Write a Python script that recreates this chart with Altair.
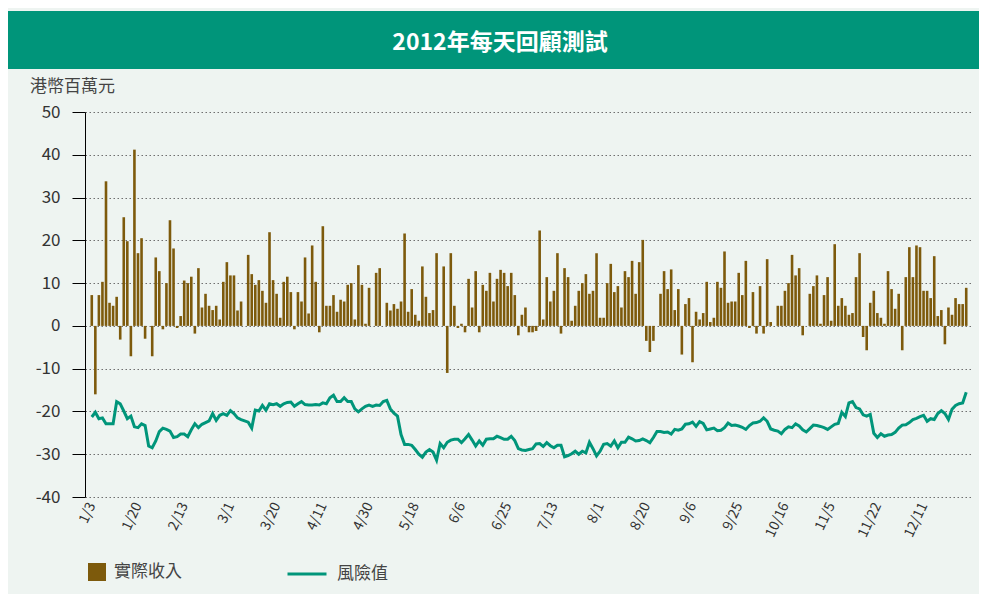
import altair as alt
import pandas as pd

# Daily actual revenue (HK$ million), one value per trading day in 2012
revenue = [
    7.2, -16.0, 7.2, 10.3, 33.8, 5.4, 4.7, 6.8, -3.2, 25.4,
    19.8, -7.1, 41.2, 17.0, 20.5, -3.0, 0, -7.1, 16.0, 12.8,
    -0.8, 10.0, 24.7, 18.1, -0.5, 2.3, 10.6, 10.0, 11.5, -1.8,
    13.5, 4.3, 7.5, 4.7, 3.7, 4.7, 1.5, 10.3, 14.9, 11.8,
    11.8, 3.6, 5.7, 0, 16.6, 12.1, 9.6, 10.7, 8.2, 5.4,
    21.9, 10.7, 7.5, 1.9, 10.3, 11.5, 7.9, -0.8, 7.9, 5.7,
    16.0, 2.9, 18.8, 10.3, -1.5, 23.3, 4.7, 4.7, 7.2, 3.3,
    6.1, 5.7, 9.6, 10.0, 1.5, 14.2, 9.6, 0.5, 8.9, 0,
    12.4, 13.5, 0, 5.4, 3.6, 5.1, 4.0, 5.7, 21.6, 3.3,
    8.6, 2.6, 1.2, 13.9, 6.8, 3.0, 3.7, 17.0, 0, 13.9,
    -11.0, 17.0, 4.7, -0.5, 0.5, -1.5, 11.0, 4.3, 12.8, -1.5,
    9.6, 8.2, 12.4, 5.7, 11.0, 13.1, 12.4, 9.3, 12.4, 7.2,
    -2.2, 2.6, 4.3, -1.5, -1.5, -1.2, 22.3, 1.5, 11.4, 5.7,
    8.2, 17.0, -1.8, 13.5, 11.4, 1.2, 4.7, 8.2, 10.0, 12.1,
    7.5, 8.2, 17.0, 1.9, 1.9, 10.0, 14.5, 7.9, 9.3, 4.3,
    12.8, 11.4, 15.2, 7.5, 14.9, 20.1, -3.5, -6.1, -3.5, 0,
    7.5, 12.8, 8.6, 13.2, 3.7, 8.6, -6.7, 5.1, 6.5, -8.5,
    3.3, 1.5, 3.0, 10.3, 0.9, 1.9, 10.3, 8.9, 17.4, 5.4,
    5.7, 5.7, 12.4, 7.2, 15.2, -0.5, 7.9, -1.8, 9.3, -1.8,
    15.6, 0.9, 0, 4.7, 4.7, 8.2, 10.0, 16.6, 11.8, 13.5,
    -2.2, 0, 7.5, 9.3, 11.8, 0.5, 7.2, 11.4, 1.2, 19.1,
    4.7, 6.5, 4.7, 2.6, 3.0, 11.4, 17.0, -2.6, -5.7, 5.4,
    8.2, 3.0, 1.9, 0.5, 12.8, 8.6, 4.0, 7.5, -5.7, 11.4,
    18.4, 11.4, 18.8, 18.4, 8.2, 8.2, 6.5, 16.3, 2.3, 3.7,
    -4.3, 4.3, 2.6, 6.5, 5.1, 5.1, 8.9,
]

# Daily value at risk (HK$ million)
var_values = [
    -21.3, -20.2, -21.7, -21.5, -22.9, -22.9, -22.9, -17.7, -18.2, -19.9,
    -21.7, -21.1, -23.6, -23.8, -22.9, -23.3, -28.1, -28.5, -26.9, -24.7,
    -23.9, -24.2, -24.6, -26.1, -25.9, -25.3, -25.3, -25.9, -24.3, -22.9,
    -23.8, -23.0, -22.6, -22.2, -20.5, -22.1, -20.9, -20.5, -20.9, -19.8,
    -20.5, -21.5, -21.9, -22.2, -22.5, -23.9, -19.7, -19.9, -18.6, -19.7,
    -18.2, -18.4, -18.2, -18.8,
    -18.2, -17.9, -17.8, -18.8, -18.2, -17.7, -18.4, -18.5, -18.5, -18.4,
    -18.5, -18.0, -18.2, -16.8, -16.2, -17.7, -17.7, -16.8, -17.7, -17.7,
    -19.4, -20.1, -19.4, -18.8, -18.5, -18.8, -18.5,
    -18.6, -17.7, -17.4, -19.4, -20.4, -21.1, -25.4, -27.7, -27.7, -27.9,
    -28.9, -30.0, -30.7, -29.5, -28.9, -29.5, -31.4, -27.5, -28.5, -27.2,
    -26.7, -26.5, -26.5, -27.3, -26.4, -25.4, -26.7, -28.1, -26.9, -27.9,
    -26.5, -26.4, -26.4, -25.8, -26.1, -26.5, -26.5, -25.8, -26.8, -28.7,
    -29.0, -29.1, -28.9, -28.7, -27.6, -27.5, -28.2, -27.3, -28.0, -28.5,
    -27.9, -27.9, -30.6, -30.3, -29.9, -29.3, -30.0, -29.3, -29.7, -27.2,
    -28.7, -30.4, -29.3, -27.7, -27.5, -28.1, -26.9, -28.5, -27.2, -27.2,
    -26.0, -26.4, -26.9, -26.8, -26.4, -26.8, -27.3, -26.1, -24.7, -24.7,
    -24.9, -24.8, -25.3, -24.2, -24.4, -24.1, -23.0, -22.9, -22.5, -23.5,
    -22.4, -22.8, -24.3, -24.1, -23.9, -24.5, -24.4, -23.8, -22.7, -23.3,
    -23.2, -23.4, -23.7, -24.2, -23.3, -22.7, -22.6, -22.3, -21.5, -22.3,
    -24.1, -24.4, -24.6, -25.2, -24.2, -23.6, -23.8, -22.9, -23.4, -24.3,
    -24.8, -24.0, -23.2, -23.3, -23.5, -23.8, -24.2, -23.6, -23.0, -22.8,
    -20.2, -21.2, -18.0, -17.7, -19.1, -19.4, -20.8, -21.1, -20.7, -25.1,
    -26.1, -25.2, -25.8, -25.5, -25.4, -24.9, -23.9, -23.2, -23.1, -22.6,
    -21.9, -21.6, -21.2, -20.9, -22.3, -21.7, -21.9, -20.5, -19.8, -20.5,
    -21.9, -19.5, -18.6, -18.2, -18.0, -15.5,
]

# x-axis tick labels (every 13th trading day)
tick_labels = ["1/3", "1/20", "2/13", "3/1", "3/20", "4/11", "4/30", "5/18", "6/6",
               "6/25", "7/13", "8/1", "8/20", "9/6", "9/25", "10/16", "11/5", "11/22", "12/11"]
tick_step = 13

title_text = "2012年每天回顧測試"
y_title = "港幣百萬元"
series_names = ["實際收入", "風險值"]

FONT = "Noto Sans CJK TC"
BROWN = "#7d5a0c"
GREEN = "#00957a"

n = len(revenue)
df = pd.DataFrame({
    "day": list(range(n)),
    "revenue": revenue,
    "var": var_values,
    "s1": [series_names[0]] * n,
    "s2": [series_names[1]] * n,
})
one = pd.DataFrame({"k": [0]})

W, H = 888, 385
PAD = {"left": 77, "top": 104, "right": 6, "bottom": 97}

label_array = "[" + ",".join("'" + t + "'" for t in tick_labels) + "]"

x_scale = alt.Scale(domain=[-0.5, n - 0.5], nice=False, zero=False)
y_scale = alt.Scale(domain=[-40, 50], nice=False)

x_axis = alt.Axis(
    values=[i * tick_step for i in range(len(tick_labels))],
    labelExpr=f"{label_array}[round(datum.value / {tick_step})]",
    labelAngle=295, labelAlign="right", labelBaseline="middle",
    labelFontSize=14, labelColor="#333333", labelFont=FONT, labelPadding=6,
    grid=False, domain=False, ticks=False, title=None,
)
y_axis = alt.Axis(
    values=list(range(-40, 51, 10)),
    labelExpr="datum.value + ''",
    grid=True, gridDash=[1.5, 2.5], gridColor="#6f6f6f", gridWidth=1,
    domain=True, domainColor="#000000", domainWidth=1,
    ticks=True, tickColor="#000000", tickSize=13,
    labelFontSize=17, labelColor="#333333", labelFont=FONT, labelPadding=12,
    title=None,
)

banner = alt.Chart(one).mark_rect(color=GREEN).encode(
    x=alt.value(-PAD["left"]), x2=alt.value(W + PAD["right"]),
    y=alt.value(-101), y2=alt.value(-43),
)
title_mark = alt.Chart(one).mark_text(
    text=title_text, font=FONT, fontSize=23, fontWeight="bold", color="white",
    align="center", baseline="middle",
).encode(x=alt.value(415), y=alt.value(-69))
ytitle_mark = alt.Chart(one).mark_text(
    text=y_title, font=FONT, fontSize=17, color="#444444",
    align="left", baseline="middle",
).encode(x=alt.value(-55), y=alt.value(-25))

bars = alt.Chart(df).mark_bar(width=2.6).encode(
    x=alt.X("day:Q", scale=x_scale, axis=x_axis),
    y=alt.Y("revenue:Q", scale=y_scale, axis=y_axis),
    color=alt.Color("s1:N", scale=alt.Scale(domain=[series_names[0]], range=[BROWN]),
                    legend=alt.Legend(orient="none", legendX=3, legendY=451, title=None,
                                      symbolType="square", symbolSize=324, symbolStrokeWidth=0,
                                      labelFont=FONT, labelFontSize=17, labelColor="#444444",
                                      labelOffset=8, padding=0)),
)
line = alt.Chart(df).mark_line(strokeWidth=3).encode(
    x=alt.X("day:Q", scale=x_scale),
    y=alt.Y("var:Q", scale=y_scale),
    color=alt.Color("s2:N", scale=alt.Scale(domain=[series_names[1]], range=[GREEN]),
                    legend=alt.Legend(orient="none", legendX=201, legendY=441, title=None,
                                      symbolType="stroke", symbolSize=1521, symbolStrokeWidth=3,
                                      labelFont=FONT, labelFontSize=17, labelColor="#444444",
                                      labelOffset=9, padding=0)),
)

chart = alt.layer(banner, title_mark, ytitle_mark, bars, line).resolve_scale(
    color="independent"
).properties(
    width=W, height=H, padding=PAD, autosize="none", background="#eef4f1",
).configure_view(stroke=None)

chart.save("out.html", embed_options={"renderer": "svg", "actions": False})
